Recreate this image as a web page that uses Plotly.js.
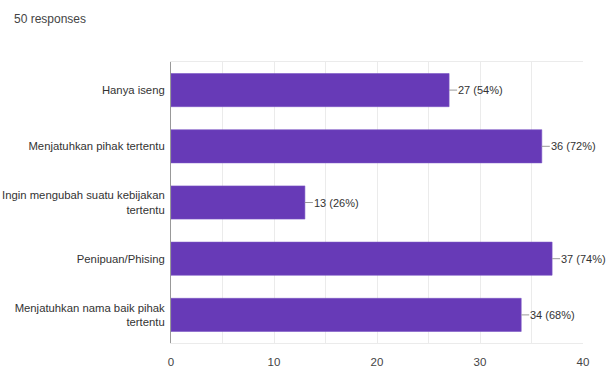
<!DOCTYPE html>
<html>
<head>
<meta charset="utf-8">
<script src="https://cdn.plot.ly/plotly-3.0.1.min.js"></script>
<style>
html,body{margin:0;padding:0;background:#fff;}
#chart{width:606px;height:370px;}
</style>
</head>
<body>
<div id="chart"></div>
<script>
var categories = [
  "Hanya iseng",
  "Menjatuhkan pihak tertentu",
  "Ingin mengubah suatu kebijakan<br>tertentu",
  "Penipuan/Phising",
  "Menjatuhkan nama baik pihak<br>tertentu"
];
var counts = [27, 36, 13, 37, 34];
var percents = [54, 72, 26, 74, 68];
var totalResponses = 50;
var xTickVals = [0, 10, 20, 30, 40];

var FONT = "'Liberation Sans', Arial, sans-serif";

var trace = {
  type: 'bar',
  orientation: 'h',
  x: counts,
  y: categories,
  marker: {color: '#673ab7', line: {color: '#7b55c4', width: 0.6}},
  hoverinfo: 'none'
};

var annotations = [{
  xref: 'paper', yref: 'paper', x: -0.386, y: 1.153,
  xanchor: 'left', yanchor: 'middle', showarrow: false,
  text: totalResponses + ' responses',
  font: {family: FONT, size: 12, color: '#444'}
}];
var shapes = [];
for (var i = 0; i < categories.length; i++) {
  annotations.push({
    xref: 'x', yref: 'y', x: counts[i], y: categories[i],
    xanchor: 'left', yanchor: 'middle', xshift: 7, showarrow: false,
    text: counts[i] + ' (' + percents[i] + '%)',
    font: {family: FONT, size: 11, color: '#333'}
  });
  shapes.push({
    type: 'line', xref: 'x', yref: 'y', xsizemode: 'pixel',
    xanchor: counts[i], x0: 0, x1: 8,
    y0: categories[i], y1: categories[i],
    line: {color: '#999', width: 1}
  });
}

var layout = {
  width: 606, height: 370,
  margin: {l: 171, r: 23, t: 62, b: 27, pad: 0},
  paper_bgcolor: '#fff', plot_bgcolor: '#fff',
  showlegend: false,
  bargap: 0.41,
  font: {family: FONT, size: 11.3, color: '#333'},
  xaxis: {
    range: [0, 40], tickvals: xTickVals, ticktext: xTickVals.map(String),
    showgrid: true, gridcolor: '#ebebeb', gridwidth: 1,
    minor: {dtick: 5, tick0: 0, showgrid: true, gridcolor: '#ebebeb', gridwidth: 1},
    zeroline: false, showline: true, linecolor: '#ebebeb', mirror: true,
    ticks: '', ticklabelstandoff: 8,
    tickfont: {family: FONT, size: 11.5, color: '#444'},
    fixedrange: true
  },
  yaxis: {
    autorange: 'reversed', type: 'category',
    showgrid: false, zeroline: false,
    showline: true, linecolor: '#999', linewidth: 1,
    ticks: '', ticklabelstandoff: 3,
    tickfont: {family: FONT, size: 11.3, color: '#333'},
    fixedrange: true
  },
  annotations: annotations,
  shapes: shapes
};

Plotly.newPlot('chart', [trace], layout, {displayModeBar: false, staticPlot: true});
</script>
</body>
</html>
